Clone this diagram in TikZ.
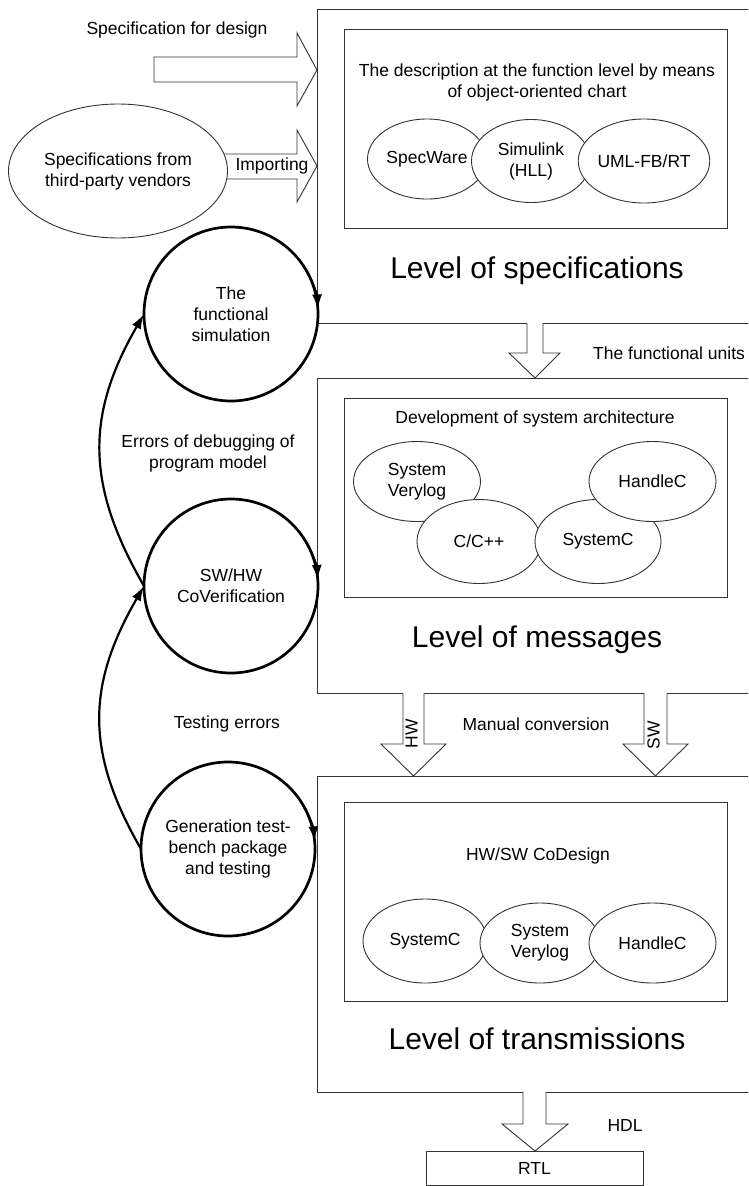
\documentclass[tikz,border=0pt]{standalone}
\usepackage{fontspec}
\setmainfont{Liberation Sans}
\usetikzlibrary{shapes.geometric,arrows.meta}
\newcommand\smallfs{\fontsize{17.5}{21}\selectfont}
\newcommand\bigfs{\fontsize{30}{36}\selectfont}
\begin{document}
\begin{tikzpicture}[x=1pt,y=1pt,
  thinline/.style={draw=black!80, line width=0.9pt},
  lvlbox/.style={thinline, rectangle, anchor=north west, inner sep=0pt, outer sep=0pt},
  tool/.style={thinline, ellipse, fill=white, inner sep=0pt, align=center, font=\smallfs},
  loopc/.style={circle, draw=black, line width=2.7pt, minimum size=174pt, inner sep=0pt, outer sep=0pt, align=center, font=\smallfs},
  barrow/.style={thinline, fill=white, line join=miter},
  lbl/.style={font=\smallfs, align=center, inner sep=0pt},
  big/.style={font=\bigfs, inner sep=0pt},
  loopar/.style={line width=2.2pt, -{Latex[length=15pt,width=10pt]}},
]
\clip (0,0) rectangle (748,-1186);
\useasboundingbox (0,0) rectangle (748,-1186);

% ---------- level boxes ----------
\node[lvlbox, minimum width=460pt, minimum height=314pt] (L1) at (317,-9) {};
\node[lvlbox, minimum width=383pt, minimum height=199pt] (I1) at (344,-29) {};
\node[lvlbox, minimum width=460pt, minimum height=315pt] (L2) at (317,-378) {};
\node[lvlbox, minimum width=383pt, minimum height=199pt] (I2) at (344,-398) {};
\node[lvlbox, minimum width=460pt, minimum height=316pt] (L3) at (317,-776) {};
\node[lvlbox, minimum width=383pt, minimum height=199pt] (I3) at (344,-802) {};
\node[thinline, rectangle, minimum width=217pt, minimum height=34pt, inner sep=0pt, font=\smallfs] (RTL) at (534.5,-1168) {RTL};

% ---------- block arrows ----------
\draw[barrow] (154,-57) -- (297,-57) -- (297,-33) -- (317,-70) -- (297,-106) -- (297,-82) -- (154,-82) -- cycle;
\draw[barrow] (210,-154) -- (297,-154) -- (297,-130) -- (317,-166) -- (297,-202) -- (297,-179) -- (210,-179) -- cycle;
\draw[barrow] (527,-323) -- (527,-353) -- (509,-353) -- (535,-378) -- (560,-353) -- (543,-353) -- (543,-323);
\draw[barrow] (403,-693) -- (403,-744) -- (381,-744) -- (413.5,-776) -- (446,-744) -- (424,-744) -- (424,-693);
\draw[barrow] (644,-693) -- (644,-744) -- (623,-744) -- (655.5,-776) -- (688,-744) -- (667,-744) -- (667,-693);
\draw[barrow] (523,-1092) -- (523,-1124) -- (502,-1124) -- (535,-1151) -- (568,-1124) -- (546,-1124) -- (546,-1092);

% ---------- outside texts ----------
\node[lbl] (tspec) at (177,-30) {Specification for design};
\node[tool, minimum width=219pt, minimum height=134pt] (vend) at (118,-171) {Specifications from\\third-party vendors};
\node[lbl] (timp) at (272,-166) {Importing};
\node[lbl, anchor=west] (tfu) at (593,-353) {The functional units};
\node[lbl] (tman) at (536,-724) {Manual conversion};
\node[lbl, rotate=90] (thw) at (411.5,-734) {HW};
\node[lbl, rotate=90] (tsw) at (653.5,-735) {SW};
\node[lbl] (thdl) at (625,-1125) {HDL};

% ---------- level 1 ----------
\node[lbl] (tdesc) at (537,-82) {The description at the function level by means\\of object-oriented chart};
\node[tool, minimum width=119pt, minimum height=80pt] (e11) at (427,-159) {SpecWare};
\node[tool, minimum width=119pt, minimum height=83pt] (e12) at (531,-161) {Simulink\\(HLL)};
\node[tool, minimum width=127pt, minimum height=84pt] (e13) at (644,-161) {UML-FB/RT};
\node[big] (b1) at (537,-271) {Level of specifications};

% ---------- level 2 ----------
\node[lbl] (tdev) at (535,-419) {Development of system architecture};
\node[tool, minimum width=127pt, minimum height=80pt] (e21) at (417,-481.5) {System\\Verylog};
\node[tool, minimum width=124pt, minimum height=84pt] (e22) at (479,-541.5) {C/C++};
\node[tool, minimum width=126pt, minimum height=84pt] (e23) at (598,-541.5) {SystemC};
\node[tool, minimum width=127pt, minimum height=80pt] (e24) at (652.5,-481.5) {HandleC};
\node[big] (b2) at (537,-640) {Level of messages};

% ---------- level 3 ----------
\node[lbl] (tcod) at (538,-856) {HW/SW CoDesign};
\node[tool, minimum width=124pt, minimum height=84pt] (e31) at (425,-941) {SystemC};
\node[tool, minimum width=120pt, minimum height=80pt] (e32) at (540,-943) {System\\Verylog};
\node[tool, minimum width=127pt, minimum height=80pt] (e33) at (652.5,-943) {HandleC};
\node[big] (b3) at (537,-1039) {Level of transmissions};

% ---------- loop circles ----------
\node[loopc] (c1) at (231,-314) {The\\functional\\simulation};
\node[loopc] (c2) at (231,-586) {SW/HW\\CoVerification};
\node[loopc] (c3) at (228,-849) {Generation test-\\bench package\\and testing};

\draw[loopar] (c1.30) arc[start angle=30, end angle=3, radius=87];
\draw[loopar] (c2.30) arc[start angle=30, end angle=4, radius=87];
\draw[loopar] (c3.30) arc[start angle=30, end angle=5, radius=87];

\draw[loopar] (c2.west) to[out=120, in=-120, looseness=1.1] (c1.west);
\draw[loopar] (c3.west) to[out=120, in=-120, looseness=1.1] (c2.west);

\node[lbl] (terr) at (208,-453) {Errors of debugging of\\program model};
\node[lbl] (ttest) at (227,-724) {Testing errors};
\end{tikzpicture}
\end{document}
